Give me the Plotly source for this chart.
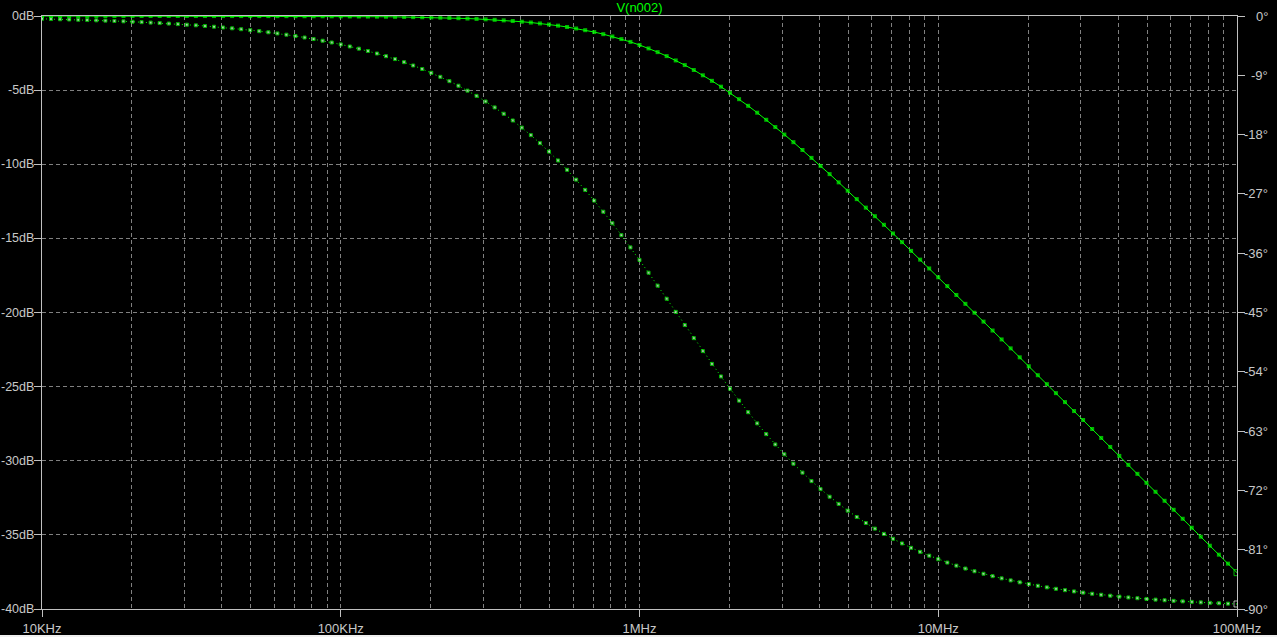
import plotly.graph_objects as go

# ---------------- data ----------------
freq_hz = [
    10000, 10723, 11498, 12328, 13219, 14175, 15199, 16298, 17475, 18738,
    20092, 21544, 23101, 24771, 26561, 28480, 30539, 32745, 35112, 37649,
    40370, 43287, 46416, 49770, 53367, 57224, 61359, 65793, 70548, 75646,
    81113, 86975, 93260,
    100000, 107227, 114976, 123285, 132194, 141747, 151991, 162975, 174753, 187382,
    200923, 215444, 231013, 247708, 265609, 284803, 305385, 327454, 351118, 376493,
    403701, 432875, 464159, 497702, 533669, 572235, 613588, 657930, 705476, 756459,
    811125, 869743, 932596,
    1000000, 1072267, 1149757, 1232846, 1321941, 1417475, 1519912, 1629752, 1747530, 1873819,
    2009235, 2154438, 2310132, 2477077, 2656087, 2848033, 3053851, 3274543, 3511184, 3764926,
    4037005, 4328747, 4641589, 4977019, 5336689, 5722351, 6135884, 6579302, 7054764, 7564587,
    8111253, 8697425, 9325959,
    10000000, 10722670, 11497570, 12328460, 13219410, 14174750, 15199120, 16297520, 17475300, 18738190,
    20092350, 21544380, 23101320, 24770770, 26560870, 28480330, 30538510, 32745430, 35111840, 37649260,
    40370050, 43287470, 46415890, 49770190, 53366890, 57223510, 61358840, 65793020, 70547640, 75645870,
    81112530, 86974250, 93259590, 100000000,
]

mag_db = [
    -0.0002, -0.0003, -0.0003, -0.0004, -0.0004, -0.0005, -0.0006, -0.0007, -0.0008, -0.0009,
    -0.0010, -0.0011, -0.0013, -0.0015, -0.0017, -0.0020, -0.0023, -0.0026, -0.0030, -0.0035,
    -0.0040, -0.0046, -0.0053, -0.0061, -0.0070, -0.0081, -0.0093, -0.0107, -0.0123, -0.0141,
    -0.0162, -0.0187, -0.0214,
    -0.0247, -0.0284, -0.0326, -0.0374, -0.0430, -0.0494, -0.0567, -0.0652, -0.0749, -0.0860,
    -0.0987, -0.1133, -0.1300, -0.1492, -0.1711, -0.1961, -0.2247, -0.2574, -0.2947, -0.3371,
    -0.3854, -0.4403, -0.5026, -0.5730, -0.6526, -0.7424, -0.8434, -0.9567, -1.0834, -1.2246,
    -1.3814, -1.5550, -1.7465,
    -1.9566, -2.1862, -2.4360, -2.7065, -2.9980, -3.3106, -3.6442, -3.9985, -4.3731, -4.7673,
    -5.1803, -5.6111, -6.0588, -6.5222, -7.0002, -7.4918, -7.9958, -8.5111, -9.0366, -9.5714,
    -10.1145, -10.6651, -11.2222, -11.7853, -12.3536, -12.9266, -13.5037, -14.0844, -14.6683, -15.2549,
    -15.8441, -16.4354, -17.0286,
    -17.6235, -18.2201, -18.8173, -19.4158, -20.0152, -20.6154, -21.2164, -21.8180, -22.4203, -23.0230,
    -23.6262, -24.2297, -24.8345, -25.4387, -26.0431, -26.6477, -27.2525, -27.8574, -28.4626, -29.0679,
    -29.6731, -30.2786, -30.8841, -31.4897, -32.0954, -32.7010, -33.3068, -33.9125, -34.5184, -35.1243,
    -35.7301, -36.3360, -36.9419, -37.5479,
]

phase_deg = [
    -0.432, -0.463, -0.497, -0.533, -0.571, -0.612, -0.657, -0.704, -0.755, -0.809,
    -0.868, -0.931, -0.998, -1.070, -1.147, -1.230, -1.319, -1.414, -1.517, -1.626,
    -1.744, -1.870, -2.005, -2.149, -2.304, -2.471, -2.649, -2.840, -3.045, -3.265,
    -3.500, -3.753, -4.023,
    -4.314, -4.624, -4.957, -5.313, -5.695, -6.103, -6.540, -7.008, -7.509, -8.045,
    -8.618, -9.231, -9.885, -10.583, -11.329, -12.124, -12.972, -13.874, -14.834, -15.854,
    -16.935, -18.082, -19.295, -20.576, -21.925, -23.345, -24.834, -26.391, -28.016, -29.705,
    -31.455, -33.261, -35.118,
    -37.020, -38.958, -40.925, -42.911, -44.907, -46.904, -48.891, -50.860, -52.801, -54.706,
    -56.568, -58.379, -60.135, -61.830, -63.460, -65.024, -66.520, -67.946, -69.302, -70.589,
    -71.808, -72.961, -74.049, -75.074, -76.039, -76.947, -77.799, -78.599, -79.349, -80.052,
    -80.711, -81.327, -81.903,
    -82.446, -82.950, -83.421, -83.860, -84.271, -84.655, -85.013, -85.348, -85.660, -85.952,
    -86.224, -86.477, -86.714, -86.935, -87.141, -87.334, -87.513, -87.681, -87.837, -87.983,
    -88.118, -88.245, -88.363, -88.474, -88.576, -88.672, -88.762, -88.845, -88.923, -88.996,
    -89.063, -89.126, -89.185, -89.240,
]

trace_name = "V(n002)"
x_decades = [1e4, 1e5, 1e6, 1e7, 1e8]
x_decade_labels = ["10KHz", "100KHz", "1MHz", "10MHz", "100MHz"]
db_ticks = [0, -5, -10, -15, -20, -25, -30, -35, -40]
deg_ticks = [0, -9, -18, -27, -36, -45, -54, -63, -72, -81, -90]

# ---------------- styling ----------------
GREEN = "#00ff00"
AXIS = "#c0c0c0"
GRID = "#808080"
TEXT = "#c8c8c8"
FONT = "Liberation Sans, Arial, sans-serif"

grid_vals = []
for d in x_decades[:-1]:
    for m in range(1, 10):
        grid_vals.append(d * m)
grid_vals.append(x_decades[-1])

n = len(freq_hz)
symbols = ["square"] * (n - 1) + ["square-open"]
mag_sizes = [4] * (n - 1) + [6]
ph_sizes = [3] * (n - 1) + [6]

fig = go.Figure()
fig.add_trace(go.Scatter(
    x=freq_hz, y=mag_db, mode="lines+markers", name=trace_name,
    line=dict(color=GREEN, width=1),
    marker=dict(color=GREEN, size=mag_sizes, symbol=symbols, line=dict(width=0, color=GREEN)),
    xaxis="x", yaxis="y", showlegend=False,
))
fig.add_trace(go.Scatter(
    x=freq_hz, y=phase_deg, mode="lines+markers", name=trace_name + " phase",
    line=dict(color=GREEN, width=1, dash="1px,3px"),
    marker=dict(color="#e8ffe8", size=ph_sizes, symbol=symbols, line=dict(width=1, color=GREEN)),
    xaxis="x2", yaxis="y2", showlegend=False,
))

fig.update_layout(
    width=1277, height=637,
    margin=dict(l=42, r=40, t=16, b=28, pad=0, autoexpand=False),
    paper_bgcolor="black", plot_bgcolor="black",
    font=dict(family=FONT, size=13, color=TEXT),
    title=dict(text=trace_name, x=0.5, xref="paper", xanchor="center",
               y=1 - 7.5 / 637, yref="container", yanchor="middle", automargin=False,
               font=dict(family=FONT, size=13, color=GREEN)),
    xaxis=dict(
        type="log", range=[4, 8], tickvals=grid_vals, ticks="", showticklabels=False,
        showgrid=True, gridcolor=GRID, griddash="4px,3px", gridwidth=1, automargin=False,
        showline=True, linecolor=AXIS, linewidth=1, mirror=True, zeroline=False,
    ),
    xaxis2=dict(
        type="log", range=[4, 8], overlaying="x", anchor="y", side="bottom",
        tickvals=x_decades, ticktext=x_decade_labels, ticks="outside", ticklen=7,
        tickcolor=AXIS, tickwidth=1, showgrid=False, showline=False, zeroline=False,
        automargin=False, tickfont=dict(family=FONT, size=13, color=TEXT),
    ),
    yaxis=dict(
        range=[-40, 0], tickvals=db_ticks, ticks="outside", ticklen=7,
        tickcolor=AXIS, tickwidth=1, showticklabels=False,
        showgrid=True, gridcolor=GRID, griddash="4px,3px", gridwidth=1, automargin=False,
        showline=True, linecolor=AXIS, linewidth=1, mirror=True, zeroline=False,
    ),
    yaxis2=dict(
        range=[-90, 0], overlaying="y", side="right", anchor="x",
        tickvals=deg_ticks, ticks="outside", ticklen=7, tickcolor=AXIS, tickwidth=1,
        showticklabels=False, showgrid=False, showline=False, zeroline=False, automargin=False,
    ),
)

# left (dB) tick labels, right-aligned just outside the ticks
for v in db_ticks:
    fig.add_annotation(
        x=0, xref="paper", y=v, yref="y", text=f"{v}dB", showarrow=False,
        xanchor="right", yanchor="middle", xshift=-7, borderpad=0,
        font=dict(family=FONT, size=12.5, color=TEXT),
    )

# right (degree) tick labels, right-aligned like the reference
for v in deg_ticks:
    fig.add_annotation(
        x=1, xref="paper", y=v, yref="y2", text=f"{v}°", showarrow=False,
        xanchor="right", yanchor="middle", xshift=33,
        font=dict(family=FONT, size=13, color=TEXT),
    )

fig.add_shape(type="rect", xref="paper", yref="paper",
              x0=-42 / 1195, x1=1 + 40 / 1195, y0=-28 / 593, y1=-26 / 593,
              fillcolor="#f0f0f0", line=dict(width=0), layer="above")

fig.write_html(
    "out.html",
    config={"displayModeBar": False},
    post_script="document.body.style.margin='0';document.body.style.overflow='hidden';",
)
